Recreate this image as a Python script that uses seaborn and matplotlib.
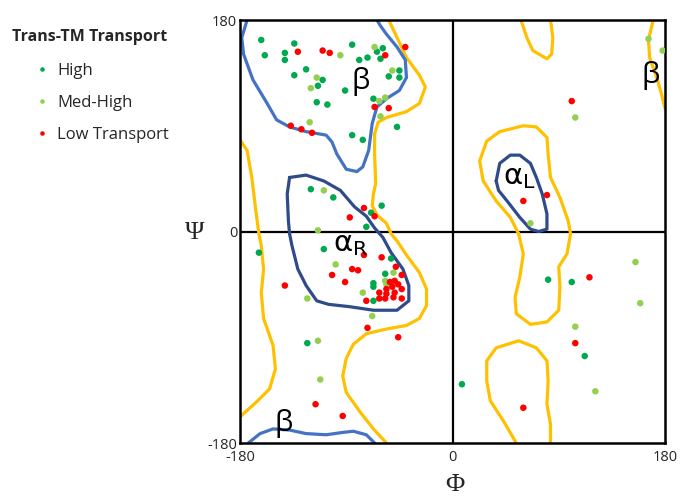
import matplotlib
matplotlib.use("Agg")
import matplotlib.pyplot as plt
import seaborn as sns
import pandas as pd

# Ramachandran points (phi, psi) per transport class
high_phi = [-162, -159, -134, -142, -142, -124, -134, -110, -114, -115, -106, -91, -85, -79, -72, -64,
            -59, -61, -54, -45, -45, -67, -47, -85, -76, -120, -101, -60, -69, -73, -164, -109, -52,
            -123, -57, -67, -67, -67, 81, 101, 112, 8]
high_psi = [163, 150, 160, 152, 146, 138, 133, 129, 124, 110, 108, 120, 159, 146, 148, 153,
            156, 147, 132, 137, 131, 113, 89, 82, 78, 36, 29, 22, 16, 4, -18, -15, -23,
            -95, -36, -44, -47, -59, -41, -43, -106, -130]

med_phi = [-115, -120, -95, -66, -51, -57, -62, -61, -121, -109, -114, -99, -123, -114, -112, -68,
           -76, -50, -57, -56, 166, 178, 104, 66, 155, 159, 104, 121]
med_psi = [131, 122, 150, 157, 137, 114, 111, 98, 93, 35, 1, -28, -57, -93, -126, -72,
           -52, -35, -42, -45, 164, 154, 97, 7, -26, -61, -81, -136]

low_phi = [-131, -110, -104, -57, -40, -66, -54, -137, -128, -119, -75, -87, -66, -75, -60, -48,
           -85, -80, -102, -91, -142, -43, -49, -46, -53, -51, -56, -43, -49, -56, -62, -62,
           -57, -50, -43, -73, -72, -46, -116, -93, 101, 60, 80, 116, 104, 60]
low_psi = [153, 154, 152, 150, 157, 106, 105, 90, 87, 84, 20, 12, 13, -20, -22, -30,
           -32, -33, -37, -43, -46, -37, -42, -45, -43, -47, -49, -49, -52, -53, -52, -57,
           -57, -56, -57, -59, -82, -90, -147, -157, 111, 26, 31, -39, -95, -150]

beta_blue_phi = [-174, -178.5, -177, -169, -157, -149, -138, -124, -107, -102, -98, -90, -81, -76,
                 -71, -68, -64, -56, -45, -39, -40, -47, -56, -61, -64]
beta_blue_psi = [180, 165, 151, 129, 109, 95, 89, 85, 82, 76, 66, 53, 51, 55,
                 69, 92, 106, 113, 120, 131, 146, 157, 168, 175, 180]

beta_low_phi = [-173, -163, -152, -138, -124, -107, -93, -84, -73, -66]
beta_low_psi = [-180, -172, -168, -169, -172, -173, -171, -170, -173, -180]

alpha_r_phi = [-138, -140, -139, -138, -136, -131, -124, -115, -105, -87, -67, -47, -37, -37,
               -42, -52, -59, -66, -73, -83, -95, -109, -124, -138]
alpha_r_psi = [46, 32, 9, -2, -12, -32, -46, -59, -62, -64, -67, -67, -59, -46,
               -32, -18, -5, 3, 13, 21, 35, 43, 48, 46]

alpha_l_phi = [37, 40, 49, 57, 66, 71, 76, 80, 80, 73, 66, 57, 47, 39, 37]
alpha_l_psi = [43, 58, 65, 65, 58, 46, 32, 15, 2, 0, 2, 12, 25, 35, 43]

allowed_main_phi = [-54, -47, -39, -28, -23, -28, -39, -56, -63, -66, -66, -65, -67, -68, -64, -56,
                    -52, -47, -39, -28, -22, -22, -28, -39, -56, -73, -84, -90, -93, -90, -78,
                    -67, -56]
allowed_main_psi = [180, 165, 148, 133, 123, 109, 102, 97, 93, 83, 66, 41, 32, 22, 14, 7,
                    -2, -8, -20, -35, -49, -63, -74, -80, -83, -87, -96, -108, -123, -137, -154,
                    -168, -180]

allowed_left_phi = [-180, -174, -170, -167, -164, -162, -160, -162, -160, -152, -150, -155, -166, -177, -180]
allowed_left_psi = [78, 69, 46, 21, -2, -12, -32, -52, -74, -97, -117, -134, -145, -155, -158]

allowed_top_phi = [58, 63, 68, 80, 84, 85, 83]
allowed_top_psi = [180, 165, 154, 147, 151, 165, 180]

allowed_right_phi = [170, 166, 167, 173, 177, 180]
allowed_right_psi = [180, 163, 148, 131, 117, 105]

allowed_al_phi = [56, 60, 57, 53, 54, 66, 80, 90, 91, 90, 97, 100, 98, 91, 83, 81, 80, 71, 60, 40,
                  29, 23, 26, 37, 49, 56]
allowed_al_psi = [-2, -19, -39, -56, -70, -79, -77, -67, -47, -30, -19, -2, 9, 29, 46, 66, 80, 89,
                  90, 85, 77, 60, 43, 26, 12, -2]

allowed_bot_phi = [54, 43, 32, 29, 29, 37, 56, 71, 80, 81, 80, 83, 83]
allowed_bot_psi = [-180, -161, -144, -127, -110, -99, -93, -99, -110, -127, -147, -164, -180]

ticks = [-180, 0, 180]
tick_labels = ["-180", "0", "180"]
classes = ["High", "Med-High", "Low Transport"]
class_colors = ["#00a84f", "#92d050", "#ff0000"]

df = pd.concat([
    pd.DataFrame({"phi": high_phi, "psi": high_psi, "Transport": classes[0]}),
    pd.DataFrame({"phi": med_phi, "psi": med_psi, "Transport": classes[1]}),
    pd.DataFrame({"phi": low_phi, "psi": low_psi, "Transport": classes[2]}),
])

sns.set_style("white")
plt.rcParams["font.family"] = ["Open Sans", "DejaVu Sans"]

fig = plt.figure(figsize=(6.84, 4.98), dpi=100)
ax = fig.add_axes([240 / 684, 1 - 443 / 498, 425 / 684, 423 / 498])

yellow = "#ffc000"
blue = "#4472c4"
navy = "#2f4b8c"
for xs, ys in [(allowed_main_phi, allowed_main_psi), (allowed_left_phi, allowed_left_psi),
               (allowed_top_phi, allowed_top_psi), (allowed_right_phi, allowed_right_psi),
               (allowed_al_phi, allowed_al_psi), (allowed_bot_phi, allowed_bot_psi)]:
    ax.plot(xs, ys, color=yellow, lw=2.3, solid_capstyle="round", zorder=2)
for xs, ys in [(beta_blue_phi, beta_blue_psi), (beta_low_phi, beta_low_psi)]:
    ax.plot(xs, ys, color=blue, lw=2.3, zorder=2)
for xs, ys in [(alpha_r_phi, alpha_r_psi), (alpha_l_phi, alpha_l_psi)]:
    ax.plot(xs, ys, color=navy, lw=2.3, zorder=2)

sns.scatterplot(data=df, x="phi", y="psi", hue="Transport", hue_order=classes,
                palette=class_colors, s=22, linewidth=0, marker="o", ax=ax, zorder=3)

ax.axvline(0, color="black", lw=1.6, zorder=1)
ax.axhline(0, color="black", lw=1.6, zorder=1)

ax.set_xlim(-180, 180)
ax.set_ylim(-180, 180)
ax.set_xticks(ticks, tick_labels)
ax.set_yticks(ticks, tick_labels)
ax.tick_params(labelsize=10.5, length=0)
ax.tick_params(axis="x", pad=5)
ax.tick_params(axis="y", pad=2)
for sp in ax.spines.values():
    sp.set_color("black")
    sp.set_linewidth(1.8)

ax.set_xlabel("")
ax.set_ylabel("")
fig.text(455 / 684, 1 - 485 / 498, "Φ", family="Liberation Serif", fontsize=19,
         ha="center", va="center")
fig.text(195 / 684, 1 - 233 / 498, "Ψ", family="Liberation Serif", fontsize=19,
         ha="center", va="center")

greek = dict(fontsize=21, ha="center", va="center", color="black", zorder=4)
ax.text(-78, 128, "β", **greek)
ax.text(168, 133, "β", **greek)
ax.text(-143, -163, "β", **greek)
ax.text(-86, -10, r"$\mathrm{α}_{\mathrm{R}}$", **greek)
ax.text(57, 47, r"$\mathrm{α}_{\mathrm{L}}$", **greek)

# legend: title as separate text, entries indented like the original
fig.text(12 / 684, 1 - 37 / 498, "Trans-TM Transport", fontsize=11.5, weight="bold",
         ha="left", va="center")
leg = ax.legend(loc="upper left", bbox_to_anchor=(32 / 684, 1 - 63 / 498),
                bbox_transform=fig.transFigure, frameon=False, fontsize=12,
                markerscale=0.7, handlelength=1.2, handletextpad=0.3,
                labelspacing=0.95, borderaxespad=0, borderpad=0)

fig.savefig("out.png", dpi=100)
